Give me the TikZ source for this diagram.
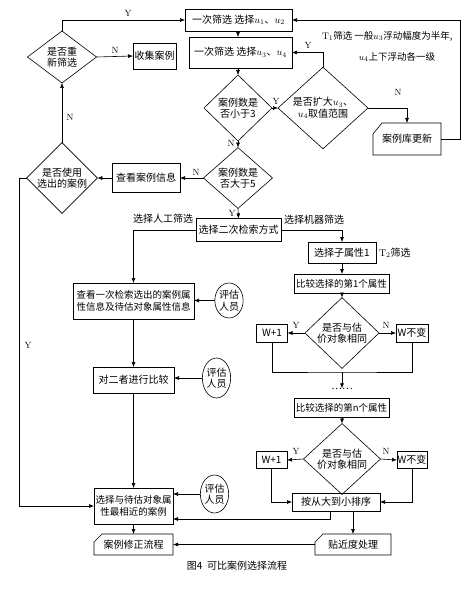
\documentclass[tikz,border=0pt]{standalone}
\usepackage{fontspec}
\newfontfamily\cjk{Noto Sans CJK SC}
\usetikzlibrary{shapes.geometric,arrows.meta,calc}
\begin{document}
\begin{tikzpicture}[x=1pt,y=-1pt,
  every node/.style={inner sep=0pt, outer sep=0pt},
  txt/.style={font=\cjk\fontsize{10}{11.5}\selectfont, align=center},
  tight/.style={font=\cjk\fontsize{9.5}{11.5}\selectfont},
  box/.style={txt, draw, line width=0.6pt, rectangle},
  dia/.style={txt, draw, line width=0.6pt, diamond},
  oval/.style={txt, draw, line width=0.6pt, ellipse},
  card/.style={txt},
  yn/.style={font=\fontsize{9}{10}\selectfont},
  lbl/.style={txt},
  arr/.style={-{Latex[length=5pt,width=4pt]}, line width=0.6pt},
  ln/.style={line width=0.6pt},
]
\fill[white] (0,0) rectangle (468,607);
\useasboundingbox (0,0) rectangle (468,607);

% top column
\node[box,minimum width=107pt,minimum height=22pt] (b1) at (238.5,20) {一次筛选 选择$u_1$、$u_2$};
\node[box,minimum width=103pt,minimum height=31pt] (b2) at (240.5,52.5) {一次筛选 选择$u_3$、$u_4$};
\node[dia,minimum width=68pt,minimum height=66pt] (d1) at (238,108) {案例数是\\否小于3};
\node[dia,minimum width=90pt,minimum height=80pt] (d2) at (323,108) {是否扩大$u_3$、\\$u_4$取值范围};
\node[card,minimum width=68pt,minimum height=32pt] (kg) at (407,139) {案例库更新};
\node[lbl,tight,anchor=west] (t1a) at (322,36) {{\rmfamily T}$_1$筛选 一般$u_3$浮动幅度为半年,};
\node[lbl,tight] (t1b) at (397,57) {$u_4$上下浮动各一级};

% left column top
\node[box,minimum width=43pt,minimum height=26pt] (jc) at (154.5,56) {收集案例};
\node[dia,minimum width=69pt,minimum height=52pt] (r1) at (62,57) {是否重\\新筛选};
\node[dia,minimum width=70pt,minimum height=70pt] (r2) at (62,178) {是否使用\\选出的案例};
\node[box,minimum width=68pt,minimum height=29pt] (ck) at (146,178) {查看案例信息};
\node[dia,minimum width=69pt,minimum height=60pt] (d3) at (238,178) {案例数是\\否大于5};
\node[box,minimum width=85pt,minimum height=23pt] (s2) at (238.5,230) {选择二次检索方式};
\node[lbl] (lm) at (163,219) {选择人工筛选};
\node[lbl] (lj) at (314,220) {选择机器筛选};

% right column
\node[box,minimum width=68pt,minimum height=21pt] (zx) at (342,252.5) {选择子属性1};
\node[lbl,anchor=west] (t2) at (379,253) {{\rmfamily T}$_2$筛选};
\node[box,tight,minimum width=95pt,minimum height=19pt] (c1) at (341.5,283.5) {比较选择的第1个属性};
\node[dia,minimum width=74pt,minimum height=59pt] (q1) at (342,333) {是否与估\\价对象相同};
\node[box,minimum width=31pt,minimum height=18pt] (wa1) at (272,333) {W+1};
\node[box,minimum width=32pt,minimum height=18pt] (wb1) at (412,333) {W不变};
\coordinate (m1) at (342,372);
\node[txt] (dots) at (342,389) {……};
\node[box,tight,minimum width=95pt,minimum height=19pt] (cn) at (341.5,407.5) {比较选择的第n个属性};
\node[dia,minimum width=77pt,minimum height=58pt] (q2) at (342,459) {是否与估\\价对象相同};
\node[box,minimum width=31pt,minimum height=17pt] (wa2) at (271.5,460) {W+1};
\node[box,minimum width=30pt,minimum height=17pt] (wb2) at (412,460) {W不变};
\node[box,minimum width=88pt,minimum height=18pt] (px) at (336,502) {按从大到小排序};
\node[card,minimum width=76pt,minimum height=21pt] (tj) at (353,544.5) {贴近度处理};

% left column bottom
\node[box,tight,minimum width=121pt,minimum height=36pt] (lk) at (133.5,301) {查看一次检索选出的案例属\\性信息及待估对象属性信息};
\node[oval,minimum width=28pt,minimum height=35pt] (e1) at (229,300.5) {评估\\人员};
\node[box,minimum width=81pt,minimum height=26pt] (bj) at (133.5,380) {对二者进行比较};
\node[oval,minimum width=27pt,minimum height=40pt] (e2) at (216.5,378) {评估\\人员};
\node[box,tight,minimum width=79pt,minimum height=36pt] (xz) at (133.5,506) {选择与待估对象属\\性最相近的案例};
\node[oval,minimum width=25pt,minimum height=38pt] (e3) at (214.5,494) {评估\\人员};
\node[card,minimum width=79pt,minimum height=21pt] (xg) at (133.5,544.5) {案例修正流程};
\node[txt,font=\cjk\fontsize{10}{12}\selectfont] (cap) at (237,566) {图4\ \ 可比案例选择流程};

% card outlines (cut top-left corner)
\foreach \n/\cx/\cy in {kg/9/11, tj/8/8, xg/8/8}
  \draw[ln] (\n.north west) ++(\cx,0) -- (\n.north east) -- (\n.south east) -- (\n.south west) -- ($(\n.north west)+(0,\cy)$) -- cycle;

% connectors
\draw[arr] (r1.north) |- (b1.west);
\node[yn] (ly1) at (128,13) {Y};
\draw[arr] (r1.east) -- (jc.west);
\node[yn] (ln1) at (115,50) {N};
\draw[arr] (r2.north) -- (r1.south);
\node[yn] (ln2) at (70,117) {N};
\draw[arr] (b1.south -| d1.north) -- (d1.north |- b2.north);
\draw[arr] (d1.north |- b2.south) -- (d1.north);
\draw[arr] (d1.east) -- (d2.west);
\node[yn] (ly2) at (276,101) {Y};
\draw[arr] (d2.north) |- (b2.east);
\node[yn] (ly3) at (308,45) {Y};
\draw[arr] (d2.east) -| (kg.north);
\node[yn] (ln3) at (398,92) {N};
\draw[arr] (kg.east) -- ++(19,0) |- (b1.east);
\draw[arr] (d1.south) -- (d3.north);
\node[yn] (ln4) at (231,143) {N};
\draw[arr] (d3.west) -- (ck.east);
\node[yn] (ln5) at (196,172) {N};
\draw[arr] (ck.west) -- (r2.east);
\draw[arr] (d3.south) -- (s2.north);
\node[yn] (ly4) at (232,213) {Y};
\draw[arr] (s2.west) -| (lk.north);
\draw[arr] (s2.east) -| (zx.north);
\draw[arr] (zx.south) -- (zx.south |- c1.north);
\draw[arr] (c1.south -| q1.north) -- (q1.north);
\draw[arr] (q1.west) -- (wa1.east);
\node[yn] (ly5) at (296,325) {Y};
\draw[arr] (q1.east) -- (wb1.west);
\node[yn] (ln6) at (386,325) {N};
\draw[ln] (wa1.south) |- (m1) -| (wb1.south);
\draw[arr] (m1) -- (dots.north);
\draw[arr] (cn.south -| q2.north) -- (q2.north);
\draw[arr] (q2.west) -- (wa2.east);
\node[yn] (ly6) at (296,451) {Y};
\draw[arr] (q2.east) -- (wb2.west);
\node[yn] (ln7) at (386,451) {N};
\draw[arr] (wa2.south) |- (px.west);
\draw[arr] (wb2.south) |- (px.east);
\draw[arr] (tj.north |- px.south) -- (tj.north);
\coordinate (p1) at (330,519);
\draw[arr] (p1 |- px.south) -- (p1) -- (p1 -| xz.east);
\draw[arr] (e1.west) -- (e1.west -| lk.east);
\draw[arr] (lk.south) -- (bj.north);
\draw[arr] (e2.west) -- (e2.west -| bj.east);
\draw[arr] (bj.south) -- (xz.north);
\draw[arr] (e3.west) -- (e3.west -| xz.east);
\draw[arr] (r2.west) -- ++(-7,0) |- (xz.west);
\node[yn] (ly7) at (28,345) {Y};
\draw[arr] (xz.south) -- (xg.north);
\draw[arr] (tj.west) -- (xg.east);
\end{tikzpicture}
\end{document}
